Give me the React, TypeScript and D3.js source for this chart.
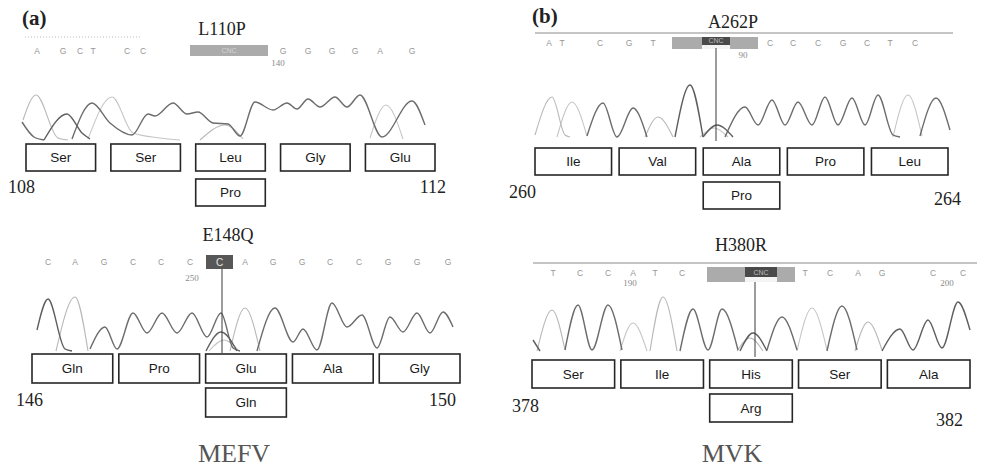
import React from "react";
import * as d3 from "d3";

type Pt = [number, number];
type Trace = { ch: string; pts: Pt[] };

// ---------- L110P (MEFV) ----------
const l110pTitle = "L110P";
const l110pBases = ["A", "G", "C", "T", "C", "C", "G", "G", "G", "G", "A", "G"];
const l110pBaseScan = [17, 43, 60, 73, 107, 123, 263, 288, 312, 335, 360, 392];
const l110pCall = { from: 170, to: 248, text: "CNC" };
const l110pTick = { label: "140", scan: 258 };
const l110pCodons = ["Ser", "Ser", "Leu", "Gly", "Glu"];
const l110pMutant = "Pro";
const l110pRange = ["108", "112"];
const l110pTraces: Trace[] = [
  { ch: "A", pts: [[3, 20], [16, 45], [38, 2], [48, 0]] },
  { ch: "C", pts: [[2, 18], [14, 3], [24, 0]] },
  { ch: "G", pts: [[24, 0], [47, 26], [62, 7], [70, 1]] },
  { ch: "C", pts: [[52, 1], [72, 37], [90, 17], [112, 5], [128, 26], [135, 24], [153, 37], [167, 26], [178, 28], [193, 17], [208, 16], [220, 4], [235, 38], [253, 30], [267, 37], [277, 31], [288, 41], [300, 33], [315, 43], [327, 33], [340, 45], [362, 3], [392, 39], [405, 15]] },
  { ch: "T", pts: [[68, 1], [92, 43], [113, 7], [140, 2], [160, 0]] },
  { ch: "A", pts: [[180, 0], [205, 15], [223, 1]] },
  { ch: "T", pts: [[350, 2], [366, 35], [383, 1]] },
];

// ---------- E148Q (MEFV) ----------
const e148qTitle = "E148Q";
const e148qBases = ["C", "A", "G", "C", "C", "C", "A", "G", "G", "C", "C", "G", "G", "G"];
const e148qBaseScan = [28, 55, 84, 113, 141, 170, 225, 253, 282, 310, 339, 368, 397, 428];
const e148qCall = { from: 186, to: 213, text: "C" };
const e148qTick = { label: "250", scan: 172 };
const e148qMarker = 202;
const e148qCodons = ["Gln", "Pro", "Glu", "Ala", "Gly"];
const e148qMutant = "Gln";
const e148qRange = ["146", "150"];
const e148qTraces: Trace[] = [
  { ch: "G", pts: [[17, 21], [28, 52], [45, 2], [52, 0]] },
  { ch: "A", pts: [[36, 0], [55, 54], [68, 0]] },
  { ch: "C", pts: [[70, 2], [85, 24], [97, 2], [113, 38], [127, 18], [142, 38], [157, 18], [172, 38], [187, 14], [201, 38], [213, 3], [220, 0]] },
  { ch: "G", pts: [[186, 0], [201, 19], [217, 0]] },
  { ch: "T", pts: [[189, 0], [204, 11], [219, 0]] },
  { ch: "A", pts: [[210, 0], [225, 43], [240, 0]] },
  { ch: "C", pts: [[237, 0], [255, 43], [273, 9], [283, 22], [297, 1], [312, 48], [327, 24], [342, 36], [357, 3], [370, 34], [383, 19], [397, 38], [410, 18], [423, 39], [433, 24]] },
];

// ---------- A262P (MVK) ----------
const a262pTitle = "A262P";
const a262pBases = ["A", "T", "C", "G", "T", "C", "C", "C", "G", "C", "T", "C"];
const a262pBaseScan = [29, 42, 80, 109, 133, 250, 273, 298, 323, 347, 370, 395];
const a262pCall = { from: 152, to: 238, innerFrom: 182, innerTo: 210, text: "CNC" };
const a262pTick = { label: "90", scan: 223 };
const a262pMarker = 196;
const a262pCodons = ["Ile", "Val", "Ala", "Pro", "Leu"];
const a262pMutant = "Pro";
const a262pRange = ["260", "264"];
const a262pTraces: Trace[] = [
  { ch: "A", pts: [[15, 2], [32, 40], [45, 2], [50, 0]] },
  { ch: "T", pts: [[37, 0], [52, 35], [67, 1]] },
  { ch: "C", pts: [[67, 1], [83, 34], [97, 0], [113, 29], [127, 0]] },
  { ch: "A", pts: [[125, 0], [138, 20], [153, 0]] },
  { ch: "G", pts: [[155, 0], [170, 52], [183, 0]] },
  { ch: "G", pts: [[183, 0], [197, 12], [213, 0]] },
  { ch: "T", pts: [[180, 0], [194, 9], [208, 0]] },
  { ch: "C", pts: [[205, 0], [225, 30], [238, 12], [252, 37], [265, 12], [278, 35], [292, 12], [305, 40], [318, 12], [332, 39], [345, 12], [358, 42], [373, 2], [380, 0]] },
  { ch: "T", pts: [[373, 0], [388, 42], [402, 1]] },
  { ch: "C", pts: [[400, 1], [416, 39], [430, 7]] },
];

// ---------- H380R (MVK) ----------
const h380rTitle = "H380R";
const h380rBases = ["T", "C", "C", "A", "T", "C", "T", "C", "A", "G", "C", "C"];
const h380rBaseScan = [33, 60, 88, 113, 135, 162, 285, 310, 338, 362, 413, 443];
const h380rCall = { from: 187, to: 275, innerFrom: 225, innerTo: 257, text: "CNC" };
const h380rTicks = [{ label: "190", scan: 110 }, { label: "200", scan: 427 }];
const h380rMarker = 235;
const h380rCodons = ["Ser", "Ile", "His", "Ser", "Ala"];
const h380rMutant = "Arg";
const h380rRange = ["378", "382"];
const h380rTraces: Trace[] = [
  { ch: "G", pts: [[13, 11], [20, 0]] },
  { ch: "A", pts: [[17, 0], [32, 41], [45, 1]] },
  { ch: "C", pts: [[45, 1], [58, 46], [72, 1], [88, 46], [102, 1]] },
  { ch: "T", pts: [[100, 0], [113, 28], [127, 0]] },
  { ch: "A", pts: [[130, 0], [143, 54], [157, 0]] },
  { ch: "C", pts: [[160, 0], [173, 42], [188, 1], [202, 42], [218, 1]] },
  { ch: "G", pts: [[220, 0], [233, 18], [247, 0]] },
  { ch: "A", pts: [[217, 0], [230, 13], [243, 0]] },
  { ch: "C", pts: [[247, 1], [262, 34], [277, 1]] },
  { ch: "T", pts: [[277, 0], [292, 43], [307, 1]] },
  { ch: "C", pts: [[307, 0], [322, 45], [337, 1]] },
  { ch: "A", pts: [[335, 0], [348, 29], [362, 1]] },
  { ch: "G", pts: [[362, 0], [380, 22], [393, 1], [408, 31], [422, 3], [438, 49], [450, 21]] },
];

const geneLabels = ["MEFV", "MVK"];
const panelLabels = ["(a)", "(b)"];

// ---------- styles ----------
const SANS = "'Liberation Sans', Arial, sans-serif";
const SERIF = "'Liberation Serif', 'Times New Roman', serif";
const chColor: Record<string, string> = { G: "#5e5e5e", C: "#6c6c6c", A: "#b8b8b8", T: "#c6c6c6" };

type Layout = {
  x0: number; base: number; titleX: number; titleY: number; seqY: number; tickY: number;
  callY: number; callH: number; innerH?: number; headLine?: [number, number, number]; dotted?: [number, number, number];
  marker?: [number, number]; band: [number, number]; pad: number; boxY: number; boxH: number; mutY: number;
  left: [number, number]; right: [number, number];
};

type PanelData = {
  title: string; bases: string[]; baseScan: number[]; call: any; ticks: { label: string; scan: number }[];
  marker?: number; codons: string[]; mutant: string; range: string[]; traces: Trace[]; dark: boolean;
};

function Panel({ d, L }: { d: PanelData; L: Layout }) {
  const xs = d3.scaleLinear().domain([0, 460]).range([L.x0, L.x0 + 460]);
  const ys = d3.scaleLinear().domain([0, 60]).range([L.base, L.base - 60]);
  const line = d3.line<Pt>().x((p) => xs(p[0])).y((p) => ys(p[1])).curve(d3.curveMonotoneX);
  const band = d3.scaleBand<string>().domain(d.codons.map((_, i) => String(i))).range(L.band).paddingInner(L.pad).paddingOuter(0);
  const c = d.call;
  const order = [...d.traces].sort((a, b) => (chColor[a.ch] < chColor[b.ch] ? 1 : -1));
  return (
    <g>
      <text x={L.titleX} y={L.titleY} textAnchor="middle" fontFamily={SERIF} fontSize={18} fill="#222">{d.title}</text>
      {L.headLine && <line x1={L.headLine[0]} x2={L.headLine[1]} y1={L.headLine[2]} y2={L.headLine[2]} stroke="#8a8a8a" strokeWidth={1} />}
      {L.dotted && <line x1={L.dotted[0]} x2={L.dotted[1]} y1={L.dotted[2]} y2={L.dotted[2]} stroke="#bbb" strokeWidth={1} strokeDasharray="1,2" />}
      {d.dark ? (
        <g>
          <rect x={xs(c.from)} y={L.callY} width={xs(c.to) - xs(c.from)} height={L.callH} fill="#575757" />
          <text x={(xs(c.from) + xs(c.to)) / 2} y={L.callY + L.callH - 3.5} textAnchor="middle" fontFamily={SANS} fontSize={10} fill="#e8e8e8">{c.text}</text>
        </g>
      ) : (
        <g>
          <rect x={xs(c.from)} y={L.callY} width={xs(c.to) - xs(c.from)} height={L.callH} fill="#ababab" />
          {c.innerFrom !== undefined ? (
            <g>
              <rect x={xs(c.innerFrom)} y={L.callY} width={xs(c.innerTo) - xs(c.innerFrom)} height={L.callH} fill="#f4f4f4" />
              <rect x={xs(c.innerFrom)} y={L.callY} width={xs(c.innerTo) - xs(c.innerFrom)} height={L.innerH} fill="#4a4a4a" />
              <text x={(xs(c.innerFrom) + xs(c.innerTo)) / 2} y={L.callY + (L.innerH || 8) - 2} textAnchor="middle" fontFamily={SANS} fontSize={7} fill="#bdbdbd">{c.text}</text>
            </g>
          ) : (
            <text x={(xs(c.from) + xs(c.to)) / 2} y={L.callY + L.callH - 3} textAnchor="middle" fontFamily={SANS} fontSize={7} fill="#d4d4d4">{c.text}</text>
          )}
        </g>
      )}
      {d.bases.map((b, i) => (
        <text key={i} x={xs(d.baseScan[i])} y={L.seqY} textAnchor="middle" fontFamily={SANS} fontSize={8.5} fill="#969696">{b}</text>
      ))}
      {d.ticks.map((t, i) => (
        <text key={i} x={xs(t.scan)} y={L.tickY} textAnchor="middle" fontFamily={SERIF} fontSize={9} fill="#8a8a8a">{t.label}</text>
      ))}
      {order.map((t, i) => (
        <path key={i} d={line(t.pts) || ""} fill="none" stroke={chColor[t.ch]} strokeWidth={chColor[t.ch] < "#900" ? 1.4 : 1.1} />
      ))}
      {d.marker !== undefined && L.marker && (
        <line x1={xs(d.marker)} x2={xs(d.marker)} y1={L.marker[0]} y2={L.marker[1]} stroke="#3a3a3a" strokeWidth={1} />
      )}
      {d.codons.map((aa, i) => {
        const x = band(String(i)) as number;
        return (
          <g key={i}>
            <rect x={x} y={L.boxY} width={band.bandwidth()} height={L.boxH} fill="#fff" stroke="#262626" strokeWidth={1.6} />
            <text x={x + band.bandwidth() / 2} y={L.boxY + L.boxH / 2 + 4.7} textAnchor="middle" fontFamily={SANS} fontSize={13.5} fill="#1a1a1a">{aa}</text>
          </g>
        );
      })}
      <rect x={band("2") as number} y={L.mutY} width={band.bandwidth()} height={L.boxH} fill="#fff" stroke="#262626" strokeWidth={1.6} />
      <text x={(band("2") as number) + band.bandwidth() / 2} y={L.mutY + L.boxH / 2 + 4.7} textAnchor="middle" fontFamily={SANS} fontSize={13.5} fill="#1a1a1a">{d.mutant}</text>
      <text x={L.left[0]} y={L.left[1]} fontFamily={SERIF} fontSize={18} fill="#222">{d.range[0]}</text>
      <text x={L.right[0]} y={L.right[1]} textAnchor="end" fontFamily={SERIF} fontSize={18} fill="#222">{d.range[1]}</text>
    </g>
  );
}

export default function App() {
  const panels: { d: PanelData; L: Layout }[] = [
    {
      d: { title: l110pTitle, bases: l110pBases, baseScan: l110pBaseScan, call: l110pCall, ticks: [l110pTick], codons: l110pCodons, mutant: l110pMutant, range: l110pRange, traces: l110pTraces, dark: false },
      L: { x0: 20, base: 140, titleX: 222, titleY: 35, seqY: 54, tickY: 66, callY: 45, callH: 11, dotted: [25, 140, 37], band: [26, 435], pad: 0.18, boxY: 144, boxH: 27, mutY: 179, left: [8, 193], right: [446, 193] },
    },
    {
      d: { title: e148qTitle, bases: e148qBases, baseScan: e148qBaseScan, call: e148qCall, ticks: [e148qTick], marker: e148qMarker, codons: e148qCodons, mutant: e148qMutant, range: e148qRange, traces: e148qTraces, dark: true },
      L: { x0: 20, base: 351, titleX: 228, titleY: 241, seqY: 265, tickY: 281, callY: 255, callH: 14, marker: [269, 353], band: [32, 460], pad: 0.07, boxY: 354, boxH: 29, mutY: 388, left: [16, 406], right: [456, 406] },
    },
    {
      d: { title: a262pTitle, bases: a262pBases, baseScan: a262pBaseScan, call: a262pCall, ticks: [a262pTick], marker: a262pMarker, codons: a262pCodons, mutant: a262pMutant, range: a262pRange, traces: a262pTraces, dark: false },
      L: { x0: 520, base: 137, titleX: 733, titleY: 28, seqY: 46, tickY: 58, callY: 37, callH: 12, innerH: 8, headLine: [535, 953, 33], marker: [48, 141], band: [535, 948], pad: 0.09, boxY: 148, boxH: 27, mutY: 182, left: [509, 198], right: [961, 205] },
    },
    {
      d: { title: h380rTitle, bases: h380rBases, baseScan: h380rBaseScan, call: h380rCall, ticks: h380rTicks, marker: h380rMarker, codons: h380rCodons, mutant: h380rMutant, range: h380rRange, traces: h380rTraces, dark: false },
      L: { x0: 520, base: 351, titleX: 741, titleY: 251, seqY: 276, tickY: 286, callY: 267, callH: 15, innerH: 10, headLine: [533, 977, 263], marker: [282, 357], band: [532, 970], pad: 0.07, boxY: 360, boxH: 28, mutY: 394, left: [512, 412], right: [963, 426] },
    },
  ];
  return (
    <svg width={993} height={470} style={{ position: "absolute", left: 0, top: 0, background: "#fff" }}>
      <rect width={993} height={470} fill="#fff" />
      <text x={22} y={25} fontFamily={SERIF} fontWeight="bold" fontSize={21} fill="#222">{panelLabels[0]}</text>
      <text x={532} y={23} fontFamily={SERIF} fontWeight="bold" fontSize={21} fill="#222">{panelLabels[1]}</text>
      {panels.map((p, i) => (
        <Panel key={i} d={p.d} L={p.L} />
      ))}
      <text x={234} y={462} textAnchor="middle" fontFamily={SERIF} fontSize={26} fill="#555">{geneLabels[0]}</text>
      <text x={732} y={462} textAnchor="middle" fontFamily={SERIF} fontSize={26} fill="#555">{geneLabels[1]}</text>
    </svg>
  );
}
